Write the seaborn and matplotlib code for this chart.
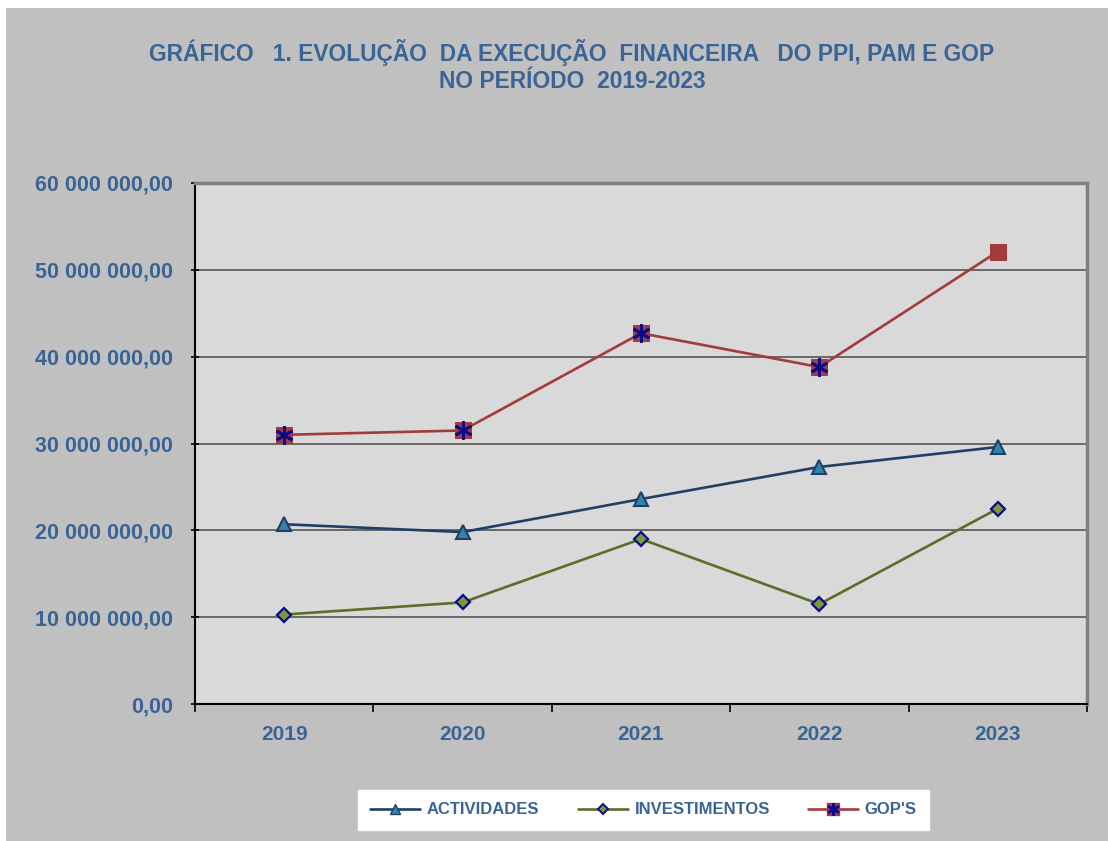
import matplotlib
matplotlib.use("Agg")
import matplotlib.pyplot as plt
import matplotlib.ticker as mticker
from matplotlib.lines import Line2D
from matplotlib.patches import Rectangle
import seaborn as sns
import pandas as pd

years = ["2019", "2020", "2021", "2022", "2023"]
actividades = [20.7e6, 19.8e6, 23.6e6, 27.3e6, 29.6e6]
investimentos = [10.3e6, 11.7e6, 19.0e6, 11.5e6, 22.5e6]
gops = [31.0e6, 31.5e6, 42.7e6, 38.8e6, 52.1e6]
series_names = ["ACTIVIDADES", "INVESTIMENTOS", "GOP'S"]
yticks = [0, 10e6, 20e6, 30e6, 40e6, 50e6, 60e6]

sns.set_theme(style="white")
plt.rcParams['font.family'] = ['Liberation Sans', 'DejaVu Sans']

txt_col = "#3a6495"
fig = plt.figure(figsize=(11.08, 8.41), dpi=100, facecolor="white")
fig.patches.append(Rectangle((6/1108, 0), 1, 1 - 8/841, transform=fig.transFigure,
                             facecolor="#c0c0c0", edgecolor="none", zorder=-10))

ax = fig.add_axes([195/1108, 1 - 704/841, (1087 - 195)/1108, (704 - 183)/841])
ax.set_facecolor("#d9d9d9")

x = list(range(len(years)))
df = pd.DataFrame({"x": x, "ACTIVIDADES": actividades,
                   "INVESTIMENTOS": investimentos, "GOP'S": gops})

lw = 1.9
sns.lineplot(data=df, x="x", y="ACTIVIDADES", ax=ax, color="#1f3f66", lw=lw,
             marker="^", markersize=10, markerfacecolor="#2e86a8",
             markeredgecolor="#1f3f66", markeredgewidth=1.5, zorder=5)
sns.lineplot(data=df, x="x", y="INVESTIMENTOS", ax=ax, color="#5a6e2a", lw=lw,
             marker="D", markersize=7, markerfacecolor="#7a9a3a",
             markeredgecolor="#0a0a8a", markeredgewidth=1.6, zorder=5)
sns.lineplot(data=df, x="x", y="GOP'S", ax=ax, color="#a23b3b", lw=lw,
             marker="s", markersize=11, markerfacecolor="#a23b3b",
             markeredgecolor="#a23b3b", zorder=5)
ax.plot(x[:-1], gops[:-1], ls="none", marker=(6, 2, 0), markersize=13,
        markeredgecolor="#0a0a8a", markeredgewidth=2.0, zorder=6)

ax.set_xlim(-0.5, len(years) - 0.5)
ax.set_ylim(0, 60e6)
ax.set_xticks(x)
ax.set_xticklabels(years)
ax.set_xticks([i - 0.5 for i in range(len(years) + 1)], minor=True)
ax.set_yticks(yticks)
ax.yaxis.set_major_formatter(mticker.FuncFormatter(
    lambda v, p: "0,00" if v == 0 else f"{int(v):,}".replace(",", " ") + ",00"))
ax.set_xlabel("")
ax.set_ylabel("")
ax.grid(axis="y", color="#555555", lw=1.2)
ax.set_axisbelow(True)

ax.tick_params(axis="x", which="major", length=0, pad=15, labelsize=15,
               labelcolor=txt_col)
ax.tick_params(axis="x", which="minor", length=6, width=1.2, color="black",
               direction="out", bottom=True)
ax.tick_params(axis="y", which="major", length=6, width=1.2, color="black",
               direction="inout", left=True, pad=13, labelsize=15.5, labelcolor=txt_col)
for lbl in ax.get_xticklabels() + ax.get_yticklabels():
    lbl.set_fontweight("bold")

for s in ["left", "bottom"]:
    ax.spines[s].set_color("black")
    ax.spines[s].set_linewidth(1.5)
for s in ["top", "right"]:
    ax.spines[s].set_color("#808080")
    ax.spines[s].set_linewidth(2.5)

fig.text(572/1108, 1 - 53/841, "GRÁFICO   1. EVOLUÇÃO  DA EXECUÇÃO  FINANCEIRA   DO PPI, PAM E GOP",
         ha="center", va="center", fontsize=16.4, fontweight="bold", color=txt_col)
fig.text(572/1108, 1 - 81/841, "NO PERÍODO  2019-2023",
         ha="center", va="center", fontsize=16.4, fontweight="bold", color=txt_col)

handles = [
    Line2D([], [], color="#1f3f66", lw=lw, marker="^", markersize=7,
           markerfacecolor="#2e86a8", markeredgecolor="#1f3f66"),
    Line2D([], [], color="#5a6e2a", lw=lw, marker="D", markersize=5,
           markerfacecolor="#7a9a3a", markeredgecolor="#0a0a8a", markeredgewidth=1.4),
    (Line2D([], [], color="#a23b3b", lw=lw, marker="s", markersize=8,
            markerfacecolor="#a23b3b", markeredgecolor="#a23b3b"),
     Line2D([], [], ls="none", marker=(6, 2, 0), markersize=9,
            markeredgecolor="#0a0a8a", markeredgewidth=1.8)),
]
leg = fig.legend(handles, series_names, loc="center", ncol=3,
                 bbox_to_anchor=(643.5/1108, 1 - 810/841), frameon=True,
                 fancybox=False, facecolor="white", edgecolor="white", framealpha=1,
                 handlelength=3.0, columnspacing=2.3, handletextpad=0.4,
                 borderpad=0.75, borderaxespad=0, prop={"weight": "bold", "size": 12})
for t in leg.get_texts():
    t.set_color(txt_col)

fig.savefig("out.png", dpi=100, facecolor=fig.get_facecolor())
